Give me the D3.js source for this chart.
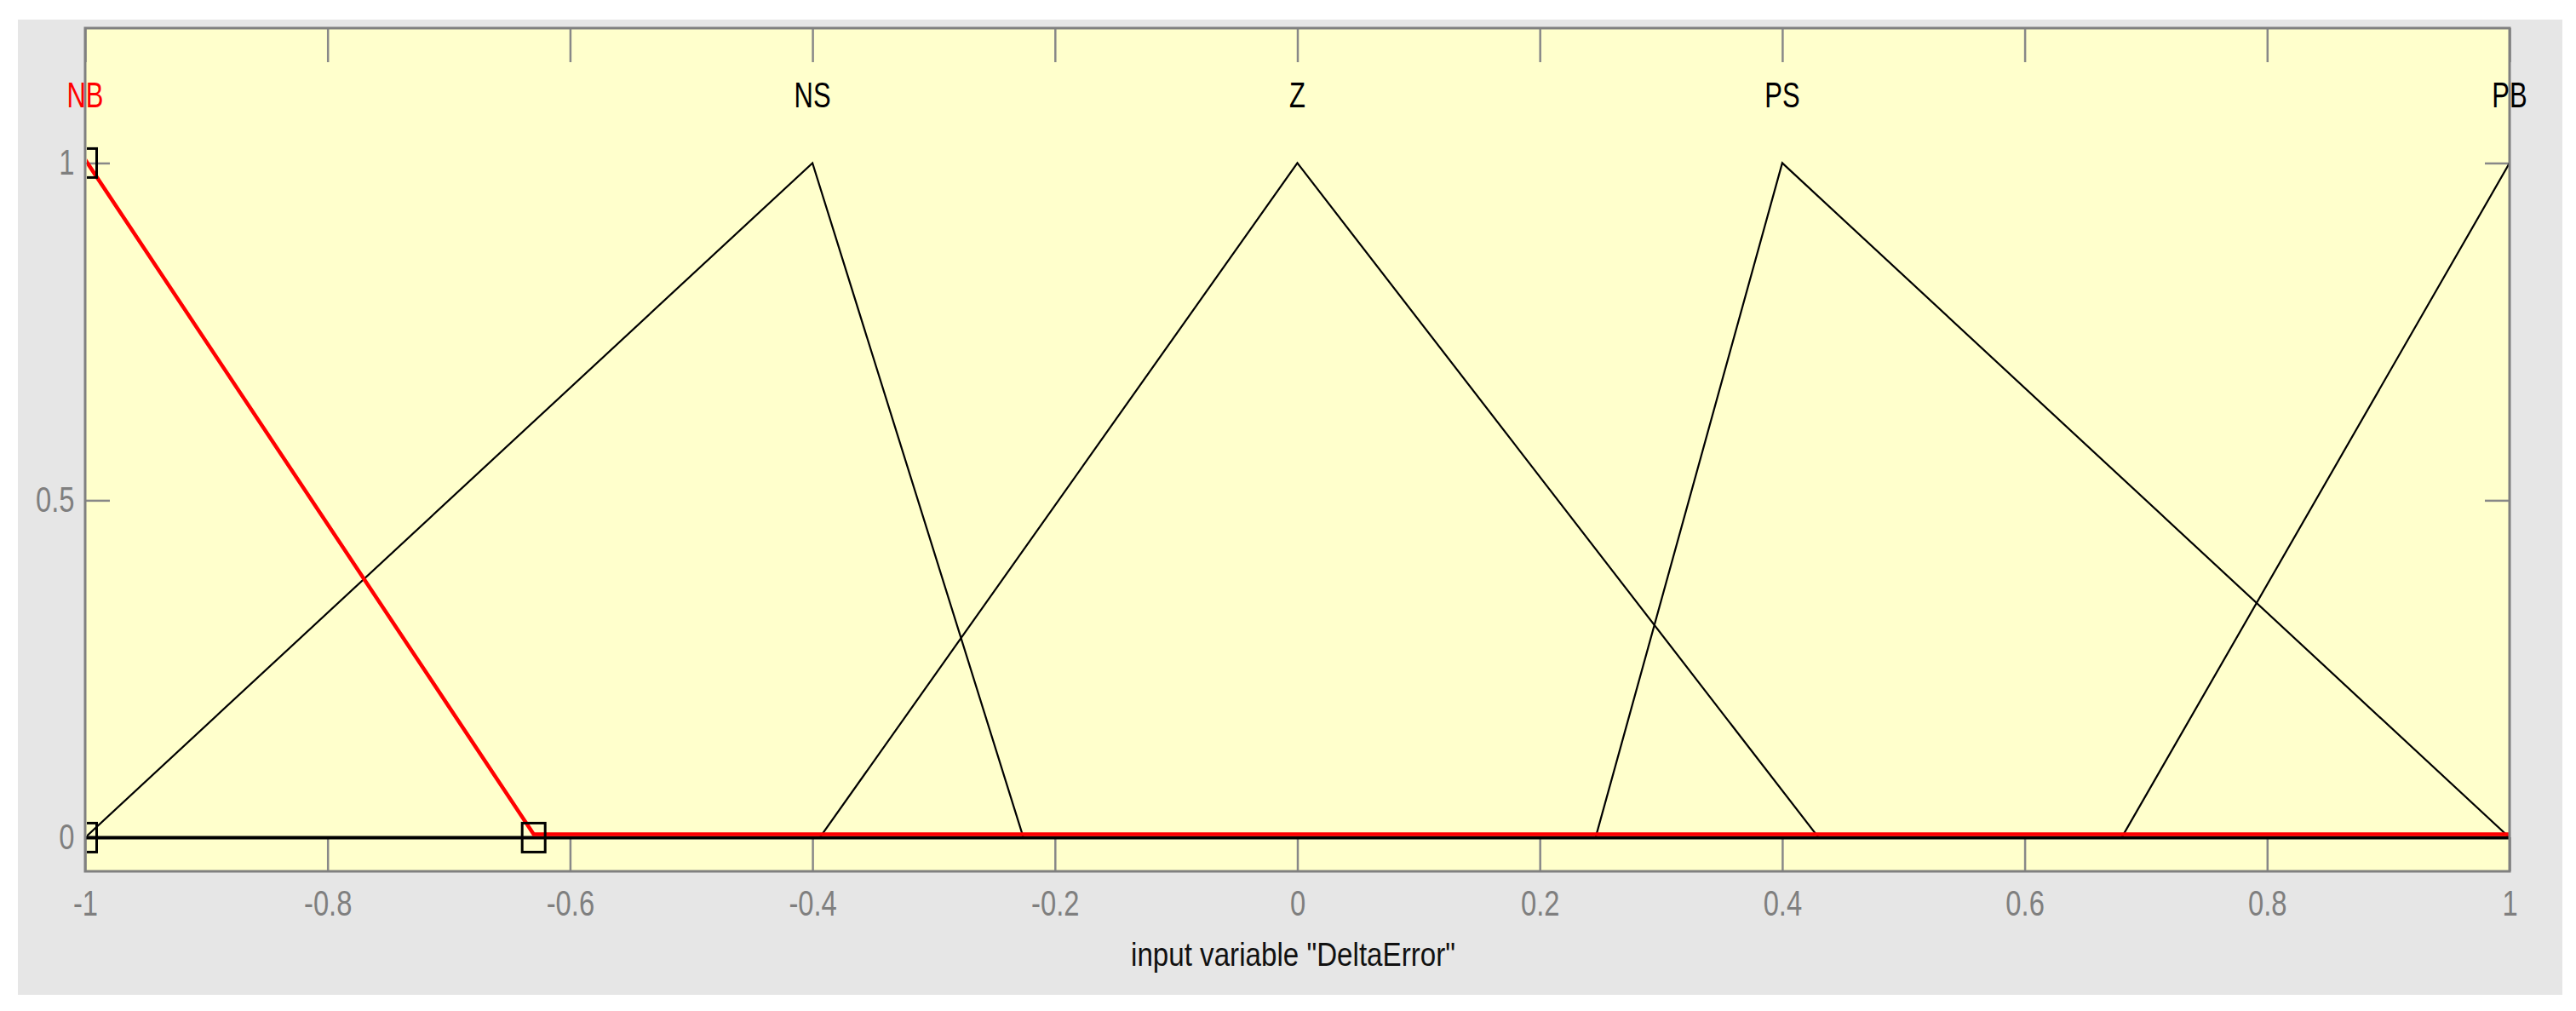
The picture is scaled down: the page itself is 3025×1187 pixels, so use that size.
<!DOCTYPE html>
<html>
<head>
<meta charset="utf-8">
<script src="https://d3js.org/d3.v7.min.js"></script>
<style>
  body { margin: 0; background: #ffffff; }
  text { font-family: "Liberation Sans", Arial, sans-serif; }
</style>
</head>
<body>
<div id="canvas"></div>
<script>
"use strict"

let svgWidth = 3025
let svgHeight = 1187

// tick values and labels
let xTicks = [-1, -0.8, -0.6, -0.4, -0.2, 0, 0.2, 0.4, 0.6, 0.8, 1]
let xTickLabels = ["-1", "-0.8", "-0.6", "-0.4", "-0.2", "0", "0.2", "0.4", "0.6", "0.8", "1"]
let yTicks = [0, 0.5, 1]
let yTickLabels = ["0", "0.5", "1"]

// membership functions (names, peaks, polyline vertices)
let mfNames = ["NB", "NS", "Z", "PS", "PB"]
let mfPeaks = [-1, -0.4, 0, 0.4, 1]
let mfLines = [
    [[-1, 1], [-0.63, 0], [1, 0]],
    [[-1, 0], [-0.4, 1], [-0.226, 0], [1, 0]],
    [[-1, 0], [-0.394, 0], [0, 1], [0.43, 0], [1, 0]],
    [[-1, 0], [0.246, 0], [0.4, 1], [1, 0]],
    [[-1, 0], [0.68, 0], [1, 1]]
]
let selectedMf = 0
let selectedParams = [[-1, 0], [-1, 1], [-0.63, 0]]

let axisLabel = 'input variable "DeltaError"'

let drawing = d3.select("#canvas")
    .append("svg")
    .attr("width", svgWidth)
    .attr("height", svgHeight)

let panel = drawing.append("rect")
    .attr("x", 21)
    .attr("y", 23)
    .attr("width", 2988)
    .attr("height", 1145)
    .attr("fill", "#e6e6e6")

let x = d3.scaleLinear().domain([-1, 1]).range([100, 2947])
let y = d3.scaleLinear().domain([-0.05, 1.2]).range([1023, 33])

let plotBg = drawing.append("rect")
    .attr("x", x(-1))
    .attr("y", y(1.2))
    .attr("width", x(1) - x(-1))
    .attr("height", y(-0.05) - y(1.2))
    .attr("fill", "#ffffcc")

drawing.append("clipPath")
    .attr("id", "plotClip")
    .append("rect")
    .attr("x", x(-1) + 2)
    .attr("y", y(1.2))
    .attr("width", x(1) - x(-1) - 2)
    .attr("height", y(-0.05) - y(1.2))

// ticks on all four sides
let bottomAxis = drawing.append("g")
    .attr("transform", `translate(0,${y(-0.05)})`)
    .call(d3.axisBottom(x).tickValues(xTicks).tickSize(-40).tickPadding(22)
        .tickFormat((d, i) => xTickLabels[i]))
let topAxis = drawing.append("g")
    .attr("transform", `translate(0,${y(1.2)})`)
    .call(d3.axisTop(x).tickValues(xTicks).tickSize(-40).tickFormat(""))
let leftAxis = drawing.append("g")
    .attr("transform", `translate(${x(-1)},0)`)
    .call(d3.axisLeft(y).tickValues(yTicks).tickSize(-29)
        .tickFormat((d, i) => yTickLabels[i]))
let rightAxis = drawing.append("g")
    .attr("transform", `translate(${x(1)},0)`)
    .call(d3.axisRight(y).tickValues(yTicks).tickSize(-29).tickFormat(""))

drawing.selectAll(".domain").remove()
drawing.selectAll(".tick line")
    .attr("stroke", "#888888")
    .attr("stroke-width", 2.5)

bottomAxis.selectAll("text")
    .attr("font-size", 42)
    .attr("fill", "#7f7f7f")
    .attr("transform", "scale(0.78,1)")
leftAxis.selectAll("text")
    .attr("font-size", 42)
    .attr("fill", "#7f7f7f")
    .attr("x", -16)
    .attr("transform", "scale(0.78,1)")

// zero line under the membership functions
let zeroLine = drawing.append("line")
    .attr("x1", x(-1))
    .attr("x2", x(1))
    .attr("y1", y(0))
    .attr("y2", y(0))
    .attr("stroke", "black")
    .attr("stroke-width", 4)

let line = d3.line().x(d => x(d[0])).y(d => y(d[1]))

let mfGroup = drawing.append("g").attr("clip-path", "url(#plotClip)")

mfLines.forEach((pts, i) => {
    if (i === selectedMf) return
    mfGroup.append("path")
        .attr("d", line(pts))
        .attr("fill", "none")
        .attr("stroke", "black")
        .attr("stroke-width", 2.2)
})

let selectedLine = mfGroup.append("path")
    .attr("d", line(mfLines[selectedMf]))
    .attr("transform", "translate(0,-4)")
    .attr("fill", "none")
    .attr("stroke", "#ff0000")
    .attr("stroke-width", 4.5)

let markers = mfGroup.selectAll(".marker")
    .data(selectedParams)
    .join("rect")
    .attr("class", "marker")
    .attr("x", d => x(d[0]) - 13.5)
    .attr("y", d => y(d[1]) - 17)
    .attr("width", 27)
    .attr("height", 34)
    .attr("fill", "none")
    .attr("stroke", "black")
    .attr("stroke-width", 3)

// plot frame
let frame = drawing.append("rect")
    .attr("x", x(-1))
    .attr("y", y(1.2))
    .attr("width", x(1) - x(-1))
    .attr("height", y(-0.05) - y(1.2))
    .attr("fill", "none")
    .attr("stroke", "#808080")
    .attr("stroke-width", 3)

// membership function names
mfNames.forEach((name, i) => {
    drawing.append("text")
        .attr("transform", `translate(${x(mfPeaks[i])},${y(1) - 65}) scale(0.72,1)`)
        .attr("text-anchor", "middle")
        .attr("font-size", 43)
        .attr("fill", i === selectedMf ? "#ff0000" : "black")
        .text(name)
})

let xLabel = drawing.append("text")
    .attr("transform", `translate(${(x(-1) + x(1)) / 2 - 5},1134) scale(0.85,1)`)
    .attr("text-anchor", "middle")
    .attr("font-size", 39)
    .attr("fill", "#111111")
    .text(axisLabel)
</script>
</body>
</html>
